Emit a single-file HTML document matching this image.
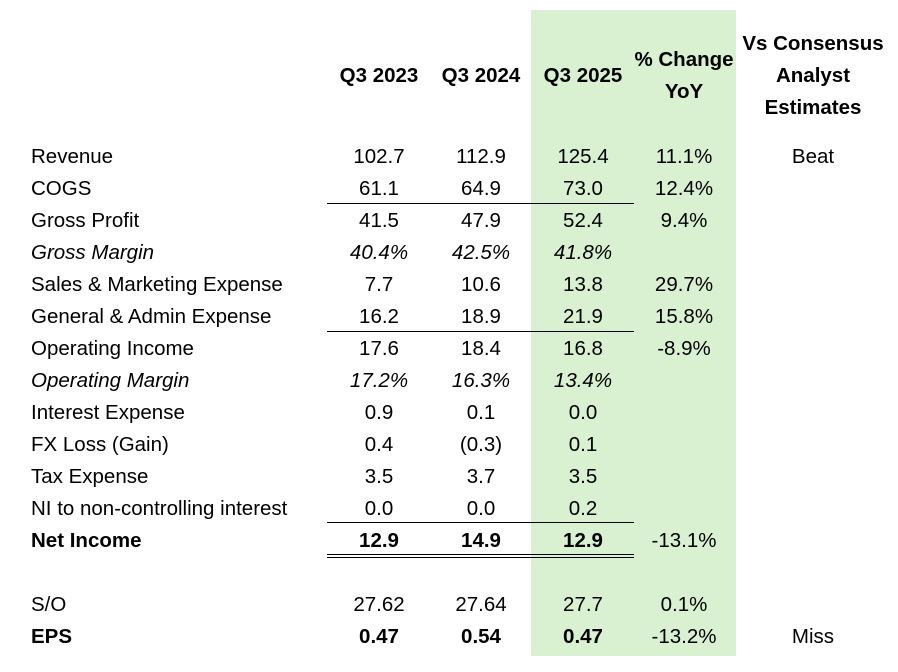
<!DOCTYPE html>
<html><head><meta charset="utf-8"><style>
body{margin:0;width:898px;height:672px;background:#fff;position:relative;overflow:hidden;font-family:"Liberation Sans",sans-serif;font-size:20.5px;color:#000}
.t{position:absolute;white-space:nowrap;line-height:22px}
.c{transform:translateX(-50%)}
.b{font-weight:bold}
.i{font-style:italic}
.ln{position:absolute;left:327px;width:307px;height:1px;background:#000}
</style></head><body>
<div style="position:absolute;left:531px;top:10px;width:205px;height:646px;background:#d9f0d1"></div>
<div id="tbl"></div>
<div class="ln" style="top:203px"></div>
<div class="ln" style="top:331px"></div>
<div class="ln" style="top:522px"></div>
<div class="ln" style="top:554px"></div>
<div class="ln" style="top:557px"></div>
<script>
const cols=[379,481,583,684,813];
const headers=[["Q3 2023"],["Q3 2024"],["Q3 2025"],["% Change","YoY"],["Vs Consensus","Analyst","Estimates"]];
const headerTops=[[65],[65],[65],[49,81],[33,65,97]];
const labels=["Revenue","COGS","Gross Profit","Gross Margin","Sales & Marketing Expense","General & Admin Expense","Operating Income","Operating Margin","Interest Expense","FX Loss (Gain)","Tax Expense","NI to non-controlling interest","Net Income","","S/O","EPS"];
const q23=["102.7","61.1","41.5","40.4%","7.7","16.2","17.6","17.2%","0.9","0.4","3.5","0.0","12.9","","27.62","0.47"];
const q24=["112.9","64.9","47.9","42.5%","10.6","18.9","18.4","16.3%","0.1","(0.3)","3.7","0.0","14.9","","27.64","0.54"];
const q25=["125.4","73.0","52.4","41.8%","13.8","21.9","16.8","13.4%","0.0","0.1","3.5","0.2","12.9","","27.7","0.47"];
const yoy=["11.1%","12.4%","9.4%","","29.7%","15.8%","-8.9%","","","","","","-13.1%","","0.1%","-13.2%"];
const cons=["Beat","","","","","","","","","","","","","","","Miss"];
const italicRows=[3,7];const boldRows=[12,15];
const root=document.getElementById('tbl');
function add(txt,x,y,cls,name){const d=document.createElement('div');d.className='t '+cls;d.textContent=txt;d.style.left=x+'px';d.style.top=y+'px';


root.appendChild(d);}
headers.forEach((h,ci)=>h.forEach((line,li)=>add(line,cols[ci],headerTops[ci][li],'c b','column-header')));
labels.forEach((l,r)=>{if(!l)return;const y=146+r*32;
let st=(italicRows.includes(r)?' i':'')+(boldRows.includes(r)?' b':'');
add(l,31,y,st,'row-label');
[q23,q24,q25].forEach((arr,ci)=>{if(arr[r])add(arr[r],cols[ci],y,'c'+st,'cell-value');});
if(yoy[r])add(yoy[r],cols[3],y,'c','cell-yoy');
if(cons[r])add(cons[r],cols[4],y,'c','cell-consensus');});
</script>
</body></html>
